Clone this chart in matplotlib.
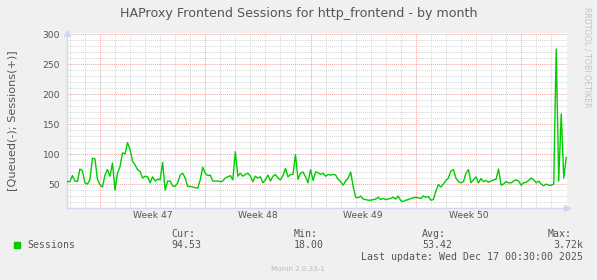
import numpy as np
import pandas as pd
import matplotlib
matplotlib.use('Agg')
import matplotlib.pyplot as plt
import matplotlib.dates as mdates

# Munin month graph: HAProxy frontend sessions, 4 hour samples
start = '2025-11-14 20:00'
sessions = [
    54, 54, 64, 55, 54, 75, 72, 52, 50, 57,
    93, 92, 58, 49, 45, 65, 74, 63, 85, 40,
    68, 79, 102, 100, 119, 108, 88, 82, 74, 71,
    60, 63, 62, 52, 62, 55, 58, 57, 86, 40,
    55, 55, 47, 46, 52, 65, 68, 60, 46, 46,
    45, 44, 43, 57, 78, 68, 64, 65, 55, 55,
    55, 54, 55, 60, 62, 64, 57, 104, 63, 68,
    63, 66, 68, 63, 54, 63, 60, 62, 52, 57,
    65, 55, 63, 66, 60, 57, 64, 76, 62, 66,
    66, 99, 58,
    68, 70, 62, 52, 74, 56, 70, 69, 66, 68,
    63, 66, 65, 66, 65, 58, 54, 48, 55, 60,
    70, 46, 28, 27, 30, 25, 24, 23, 23, 24,
    25, 28, 24, 26, 24, 25, 26, 28, 25, 30,
    22, 21, 23, 24, 26, 27, 28, 27, 26, 30,
    28, 29, 23, 24, 38, 49, 45, 50, 56, 60,
    72, 74, 60, 54, 52, 54, 68, 74, 52, 57,
    62, 52, 59, 54, 56, 53, 55, 57, 58, 75,
    48, 50, 54, 52, 52, 55, 57, 55, 48, 52,
    53, 56, 60, 57, 52, 55, 50, 47, 50, 48,
    48, 50, 275, 55, 167, 60, 94.53,
]
times = pd.date_range(start, periods=len(sessions), freq='4h')

week_starts = pd.to_datetime(['2025-11-17', '2025-11-24', '2025-12-01', '2025-12-08', '2025-12-15'])
week_labels = ['Week 47', 'Week 48', 'Week 49', 'Week 50']
y_major = [50, 100, 150, 200, 250, 300]

legend_cols = ['Cur:', 'Min:', 'Avg:', 'Max:']
legend_vals = ['94.53', '18.00', '53.42', '3.72k']

BG = '#F0F0F0'
FONT = '#555555'
AXIS = '#CFD6F8'
W, H = 597, 280

fig = plt.figure(figsize=(W / 100, H / 100), dpi=100, facecolor=BG)
ax = fig.add_axes([67 / W, 1 - 208 / H, 500 / W, 175 / H])
ax.set_facecolor('white')

x_left = pd.Timestamp('2025-11-17') - pd.Timedelta(days=2.19)
x_right = pd.Timestamp('2025-11-17') + pd.Timedelta(days=31.05)
ax.set_xlim(x_left, x_right)
ax.set_ylim(10, 302)

# grid: gray dotted minor, red dotted major
dot = (0, (1, 1))
for d in pd.date_range('2025-11-15', '2025-12-17', freq='D'):
    if d in week_starts:
        ax.axvline(d, color='#F2A0A0', lw=0.7, ls=dot, zorder=1)
    else:
        ax.axvline(d, color='#D4D4D4', lw=0.7, ls=dot, zorder=0.5)
for v in range(20, 301, 10):
    if v % 50 == 0:
        ax.axhline(v, color='#F2A0A0', lw=0.7, ls=dot, zorder=1)
    else:
        ax.axhline(v, color='#D4D4D4', lw=0.7, ls=dot, zorder=0.5)

ax.plot(times, sessions, color='#00CC00', lw=1.0, zorder=3)

# ticks
ax.set_yticks(y_major)
ax.set_yticklabels([str(v) for v in y_major])
mids = [week_starts[i] + (week_starts[i + 1] - week_starts[i]) / 2 for i in range(len(week_labels))]
ax.set_xticks(mids)
ax.set_xticklabels(week_labels)
ax.tick_params(axis='both', length=0, labelsize=6.6, colors=FONT)
ax.tick_params(axis='y', pad=5)
ax.tick_params(axis='x', pad=2.5)

for s in ['top', 'right']:
    ax.spines[s].set_visible(False)
for s in ['left', 'bottom']:
    ax.spines[s].set_color(AXIS)
    ax.spines[s].set_linewidth(1.0)
ax.plot([0], [1.0], marker='^', ms=4, color=AXIS, transform=ax.transAxes, clip_on=False, zorder=4)
ax.plot([1.0], [0], marker='>', ms=4, color=AXIS, transform=ax.transAxes, clip_on=False, zorder=4)

# texts
fig.text(0.5, 1 - 13.5 / H, 'HAProxy Frontend Sessions for http_frontend - by month',
         ha='center', va='center', fontsize=9.1, color=FONT)
fig.text(12 / W, 1 - 121 / H, '[Queued(-); Sessions(+)]', rotation=90,
         ha='center', va='center', fontsize=8.1, color=FONT)
fig.text(587 / W, 1 - 57 / H, 'RRDTOOL / TOBI OETIKER', rotation=270,
         ha='center', va='center', fontsize=5.7, color='#C4C4C4')

mono = 'DejaVu Sans Mono'
fig.patches.append(plt.Rectangle((14 / W, 1 - 248 / H), 6 / W, 6 / H,
                                 transform=fig.transFigure, color='#00CC00'))
fig.text(27 / W, 1 - 245.5 / H, 'Sessions', ha='left', va='center',
         fontsize=7.1, family=mono, color=FONT)
col_x = [171, 294, 422, 548]
for cx, lab in zip(col_x, legend_cols):
    fig.text(cx / W, 1 - 234 / H, lab, ha='left', va='center', fontsize=7.1, family=mono, color=FONT)
for cx, val in zip(col_x[:3], legend_vals[:3]):
    fig.text(cx / W, 1 - 245.5 / H, val, ha='left', va='center', fontsize=7.1, family=mono, color=FONT)
fig.text(583 / W, 1 - 245.5 / H, legend_vals[3], ha='right', va='center',
         fontsize=7.1, family=mono, color=FONT)
fig.text(583 / W, 1 - 257.5 / H, 'Last update: Wed Dec 17 00:30:00 2025', ha='right', va='center',
         fontsize=7.1, family=mono, color=FONT)
fig.text(298 / W, 1 - 269 / H, 'Munin 2.0.33-1', ha='center', va='center',
         fontsize=5.1, color='#BBBBBB')

fig.savefig('out.png', dpi=100, facecolor=BG)
